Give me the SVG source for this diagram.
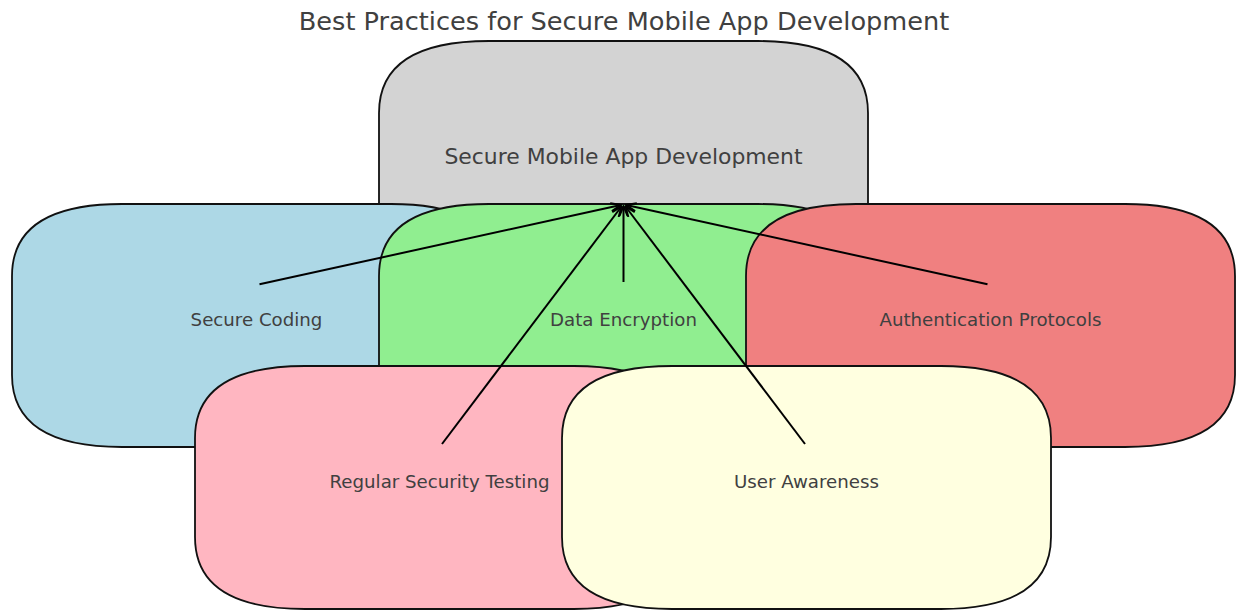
<svg xmlns="http://www.w3.org/2000/svg" width="1236" height="610" viewBox="0 0 1236 610">
<defs>
<style>
.box{stroke:#111;stroke-width:1.8}
.lbl{font-family:"DejaVu Sans",sans-serif;font-size:18.2px;fill:#404040;text-anchor:middle}
.ttl{font-family:"DejaVu Sans",sans-serif;font-size:25.6px;fill:#404040;text-anchor:middle}
.edge{stroke:#000;stroke-width:2;fill:none;marker-end:url(#ah)}
</style>
<marker id="ah" viewBox="0 0 12 10" refX="11" refY="5" markerWidth="12" markerHeight="10" markerUnits="userSpaceOnUse" orient="auto">
<path d="M1,1 L11,5 L1,9" fill="none" stroke="#000" stroke-width="2"/>
</marker>
</defs>
<rect width="1236" height="610" fill="#fff"/>
<text class="ttl" x="624" y="30">Best Practices for Secure Mobile App Development</text>
<g id="node-root">
<path class="box" fill="#d3d3d3" d="M489,41 H758 Q868,41 868,113 V212 Q868,284 758,284 H489 Q379,284 379,212 V113 Q379,41 489,41 Z"/>
<text class="lbl" style="font-size:21.9px" x="623.5" y="163.5">Secure Mobile App Development</text>
</g>
<g id="node-coding">
<path class="box" fill="#add8e6" d="M122,204 H391 Q501,204 501,276 V375 Q501,447 391,447 H122 Q12,447 12,375 V276 Q12,204 122,204 Z"/>
<text class="lbl" x="256.5" y="325.8">Secure Coding</text>
</g>
<g id="node-encryption">
<path class="box" fill="#90ee90" d="M489,204 H758 Q868,204 868,276 V375 Q868,447 758,447 H489 Q379,447 379,375 V276 Q379,204 489,204 Z"/>
<text class="lbl" x="623.5" y="325.8">Data Encryption</text>
</g>
<g id="node-auth">
<path class="box" fill="#f08080" d="M856,204 H1125 Q1235,204 1235,276 V375 Q1235,447 1125,447 H856 Q746,447 746,375 V276 Q746,204 856,204 Z"/>
<text class="lbl" x="990.5" y="325.8">Authentication Protocols</text>
</g>
<g id="node-testing">
<path class="box" fill="#ffb6c1" d="M305,366 H574 Q684,366 684,438 V537 Q684,609 574,609 H305 Q195,609 195,537 V438 Q195,366 305,366 Z"/>
<text class="lbl" x="439.5" y="487.8">Regular Security Testing</text>
</g>
<g id="node-awareness">
<path class="box" fill="#ffffe0" d="M672,366 H941 Q1051,366 1051,438 V537 Q1051,609 941,609 H672 Q562,609 562,537 V438 Q562,366 672,366 Z"/>
<text class="lbl" x="806.5" y="487.8">User Awareness</text>
</g>
<g id="connectors">
<line class="edge" x1="259.5" y1="284.3" x2="620.8" y2="205"/>
<line class="edge" x1="623.5" y1="282" x2="623.5" y2="206"/>
<line class="edge" x1="987.5" y1="284.3" x2="626.2" y2="205"/>
<line class="edge" x1="442" y1="444" x2="621.5" y2="206.5"/>
<line class="edge" x1="805" y1="444" x2="625.5" y2="206.5"/>
</g>
</svg>
